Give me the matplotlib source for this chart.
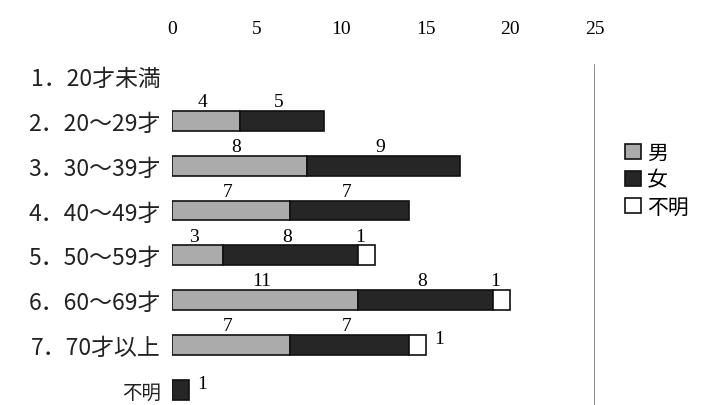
import numpy as np
import matplotlib.pyplot as plt
from matplotlib.patches import Patch

plt.rcParams['font.family'] = ['Noto Sans CJK JP', 'DejaVu Sans']

categories = ['1．20才未満', '2．20～29才', '3．30～39才', '4．40～49才',
              '5．50～59才', '6．60～69才', '7．70才以上', '不明']
male = [0, 4, 8, 7, 3, 11, 7, 0]
female = [0, 5, 9, 7, 8, 8, 7, 1]
unknown = [0, 0, 0, 0, 1, 1, 1, 0]
series_names = ['男', '女', '不明']
x_ticks = [0, 5, 10, 15, 20, 25]

colors = ['#ababab', '#262626', '#ffffff']
num_font = dict(family='Liberation Serif', size=14)

fig = plt.figure(figsize=(7.08, 4.06), dpi=100)
ax = fig.add_axes([172 / 708, 0, (595 - 172) / 708, 1 - 52 / 406])

y = np.arange(len(categories))
h = 0.44
left = np.zeros(len(categories))
for vals, col in zip([male, female, unknown], colors):
    vals = np.array(vals, dtype=float)
    nz = vals > 0
    ax.barh(y[nz], vals[nz], left=left[nz], height=h, color=col,
            edgecolor='#111111', linewidth=1.2)
    left += vals

# value labels
totals = [m + f + u for m, f, u in zip(male, female, unknown)]
left = np.zeros(len(categories))
for k, vals in enumerate([male, female, unknown]):
    for i, v in enumerate(vals):
        if v == 0:
            continue
        start = left[i]
        end = start + v
        if k == 2 and i in (4, 5):
            ax.text(start + 0.1, y[i] - h / 2 - 0.02, str(v), ha='center',
                    va='bottom', **num_font)
        elif end == totals[i] and i in (6, 7):
            ax.text(end + 0.8, y[i] - 0.15, str(v), ha='center',
                    va='center', **num_font)
        else:
            ax.text((start + end) / 2 - 0.2, y[i] - h / 2 - 0.02, str(v),
                    ha='center', va='bottom', **num_font)
    left += np.array(vals)

ax.axvline(25, ymin=0, ymax=0.96, color='#777777', linewidth=1.2)

ax.set_xlim(0, 25)
ax.set_ylim(7.34, -0.56)
ax.xaxis.tick_top()
ax.set_xticks(x_ticks)
ax.set_xticklabels([str(t) for t in x_ticks], **num_font)
ax.set_yticks(y)
ax.set_yticklabels(categories, fontsize=16.5, color='#222222')
ax.get_yticklabels()[-1].set_fontsize(14)
ax.tick_params(axis='both', length=0)
ax.tick_params(axis='x', pad=10)
ax.tick_params(axis='y', pad=8)
for s in ax.spines.values():
    s.set_visible(False)

handles = [Patch(facecolor=c, edgecolor='#111111', linewidth=1.2) for c in colors]
fig.legend(handles, series_names, loc='upper left',
           bbox_to_anchor=(615 / 708, 1 - 132 / 406), frameon=False,
           fontsize=15, handlelength=0.75, handleheight=0.75,
           handletextpad=0.3, labelspacing=0.25, borderpad=0)

fig.savefig('out.png', dpi=100)
